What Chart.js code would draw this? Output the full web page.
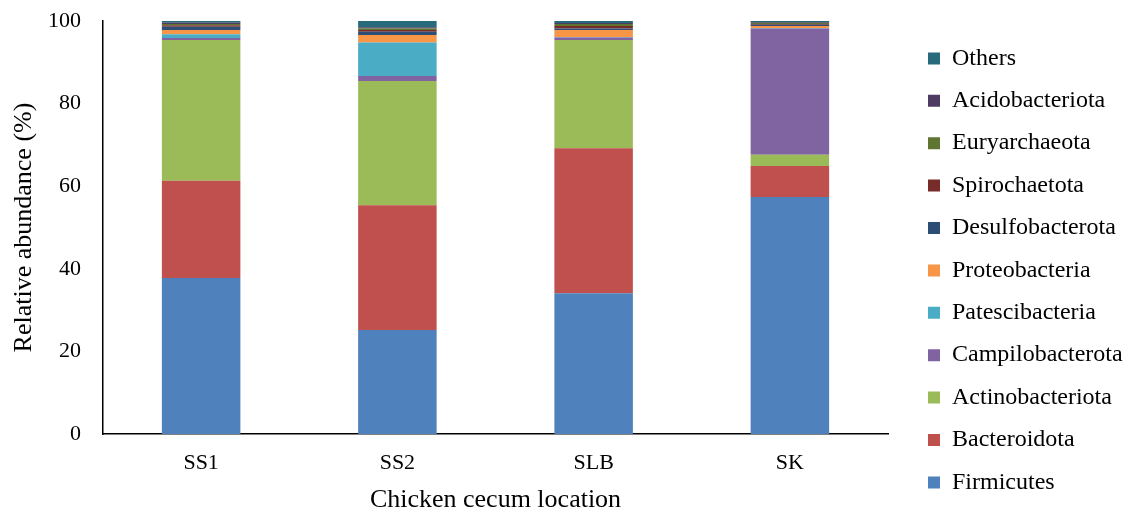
<!DOCTYPE html>
<html>
<head>
<meta charset="utf-8">
<script src="https://cdn.jsdelivr.net/npm/chart.js@4"></script>
<style>
  html, body { margin: 0; padding: 0; background: #fff; }
  #wrap { width: 1124px; height: 513px; }
</style>
</head>
<body>
<div id="wrap"><canvas id="chart" width="1124" height="513"></canvas></div>
<script>
// sampling locations
var locations = ["SS1", "SS2", "SLB", "SK"];

// relative abundance (%) per phylum, in location order
var firmicutes       = [37.8, 25.2, 34.1, 57.4];
var bacteroidota     = [23.5, 30.2, 35.1, 7.5];
var actinobacteriota = [34.1, 30.1, 26.2, 2.7];
var campilobacterota = [0.5, 1.2, 0.6, 30.6];
var patescibacteria  = [0.9, 8.1, 0.1, 0.1];
var proteobacteria   = [1.0, 1.8, 1.7, 0.5];
var desulfobacterota = [0.8, 0.8, 0.4, 0.3];
var spirochaetota    = [0.4, 0.4, 0.6, 0.2];
var euryarchaeota    = [0.3, 0.4, 0.5, 0.2];
var acidobacteriota  = [0.3, 0.3, 0.2, 0.2];
var others           = [0.4, 1.5, 0.5, 0.3];

var yTicks = [0, 20, 40, 60, 80, 100];

var serif = "'Liberation Serif', 'Times New Roman', serif";

var datasets = [
  { label: "Firmicutes", data: firmicutes, backgroundColor: "#4F81BD" },
  { label: "Bacteroidota", data: bacteroidota, backgroundColor: "#C0504D" },
  { label: "Actinobacteriota", data: actinobacteriota, backgroundColor: "#9BBB59" },
  { label: "Campilobacterota", data: campilobacterota, backgroundColor: "#8064A2" },
  { label: "Patescibacteria", data: patescibacteria, backgroundColor: "#4BACC6" },
  { label: "Proteobacteria", data: proteobacteria, backgroundColor: "#F79646" },
  { label: "Desulfobacterota", data: desulfobacterota, backgroundColor: "#2C4D75" },
  { label: "Spirochaetota", data: spirochaetota, backgroundColor: "#772C2A" },
  { label: "Euryarchaeota", data: euryarchaeota, backgroundColor: "#5F7530" },
  { label: "Acidobacteriota", data: acidobacteriota, backgroundColor: "#4D3B62" },
  { label: "Others", data: others, backgroundColor: "#276A7C" }
];
datasets.forEach(function (ds) {
  ds.barPercentage = 0.4;
  ds.categoryPercentage = 1.0;
  ds.borderWidth = 0;
});

// legend sits well away from the plot, like the original
var PLOT_RIGHT = 888;
var LEGEND_BOX_X = 928;
var LEGEND_TOP = 28;
var LEGEND_PAD = 18.4;

var legendPlace = {
  id: "legendPlace",
  beforeInit: function (chart) {
    var lg = chart.legend;
    var origFit = lg.fit;
    lg.fit = function () {
      origFit.call(this);
      this.width = chart.width - PLOT_RIGHT;
    };
  },
  afterLayout: function (chart) {
    var lg = chart.legend;
    var w = lg.width, h = lg.height;
    lg.left = LEGEND_BOX_X - LEGEND_PAD;
    lg.right = lg.left + w;
    lg.top = LEGEND_TOP;
    lg.bottom = lg.top + h;
  }
};

var ctx = document.getElementById("chart").getContext("2d");
var chart = new Chart(ctx, {
  type: "bar",
  data: { labels: locations, datasets: datasets },
  plugins: [legendPlace],
  options: {
    responsive: false,
    animation: false,
    layout: { padding: { top: 21, right: 0, left: 0, bottom: 0 } },
    plugins: {
      tooltip: { enabled: false },
      legend: {
        position: "right",
        align: "start",
        reverse: true,
        labels: {
          font: { family: serif, size: 24 },
          color: "#000",
          boxWidth: 12,
          boxHeight: 12,
          padding: LEGEND_PAD
        }
      }
    },
    scales: {
      x: {
        stacked: true,
        grid: { display: false, drawTicks: false, tickLength: 0 },
        border: { color: "#000", width: 1.5 },
        ticks: { color: "#000", font: { family: serif, size: 22 }, padding: 16 },
        title: {
          display: true,
          text: "Chicken cecum location",
          color: "#000",
          font: { family: serif, size: 26, lineHeight: 1 },
          padding: { top: 10, bottom: 0 }
        },
        afterFit: function (scale) { scale.height = 79; }
      },
      y: {
        stacked: true,
        min: 0,
        max: 100,
        afterBuildTicks: function (axis) {
          axis.ticks = yTicks.map(function (v) { return { value: v }; });
        },
        grid: { display: false, drawTicks: false, tickLength: 0 },
        border: { color: "#000", width: 1.5 },
        ticks: { color: "#000", font: { family: serif, size: 22 }, padding: 22 },
        title: {
          display: true,
          text: "Relative abundance (%)",
          color: "#000",
          font: { family: serif, size: 26 },
          padding: { top: 9, bottom: 0 }
        },
        afterFit: function (scale) {
          scale.width = 103;
          scale.paddingTop = 14;
          scale.paddingBottom = 14;
        }
      }
    }
  }
});
</script>
</body>
</html>
